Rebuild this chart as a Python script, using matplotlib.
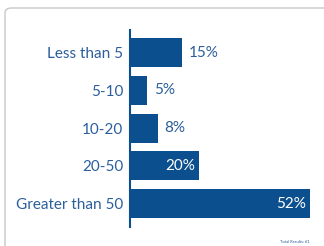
import matplotlib.pyplot as plt
from matplotlib.patches import FancyBboxPatch

categories = ['Less than 5', '5-10', '10-20', '20-50', 'Greater than 50']
values = [15, 5, 8, 20, 52]
labels = ['15%', '5%', '8%', '20%', '52%']
inside = [False, False, False, True, True]

bar_color = '#0c4f8f'
text_color = '#2c5e9c'

plt.rcParams['font.family'] = ['Lato', 'DejaVu Sans']

fig = plt.figure(figsize=(3.24, 2.46), dpi=100)
fig.patch.set_facecolor('white')

# grey rounded frame, cut off at right and bottom
frame = FancyBboxPatch((5 / 324, -0.2), 1.2, 1 - 8 / 246 + 0.2,
                       boxstyle='round,pad=0,rounding_size=0.02',
                       transform=fig.transFigure, facecolor='none',
                       edgecolor='#c8c8c8', linewidth=1.0)
fig.patches.append(frame)

ax = fig.add_axes([130 / 324, 1 - 227 / 246, 180 / 324, 197 / 246])
ax.set_facecolor('none')
y = range(len(categories))
ax.barh(y, values, height=0.77, color=bar_color)
ax.set_xlim(0, 52)
ax.set_ylim(4.62, -0.6)

ax.set_yticks(list(y))
ax.set_yticklabels(categories, fontsize=11, color=text_color)
ax.tick_params(axis='y', length=0, pad=5)
ax.set_xticks([])
for s in ['top', 'right', 'bottom']:
    ax.spines[s].set_visible(False)
ax.spines['left'].set_color(bar_color)
ax.spines['left'].set_linewidth(1.5)

for i, (v, lab, ins) in enumerate(zip(values, labels, inside)):
    if ins:
        ax.text(v - 1.2, i, lab, ha='right', va='center', color='white', fontsize=11)
    else:
        ax.text(v + 2, i, lab, ha='left', va='center', color=text_color, fontsize=11)

fig.text(310 / 324, 1 - 242 / 246, 'Total Results: 61', ha='right', va='center',
         fontsize=3, color=text_color)

fig.savefig('out.png', dpi=100)
